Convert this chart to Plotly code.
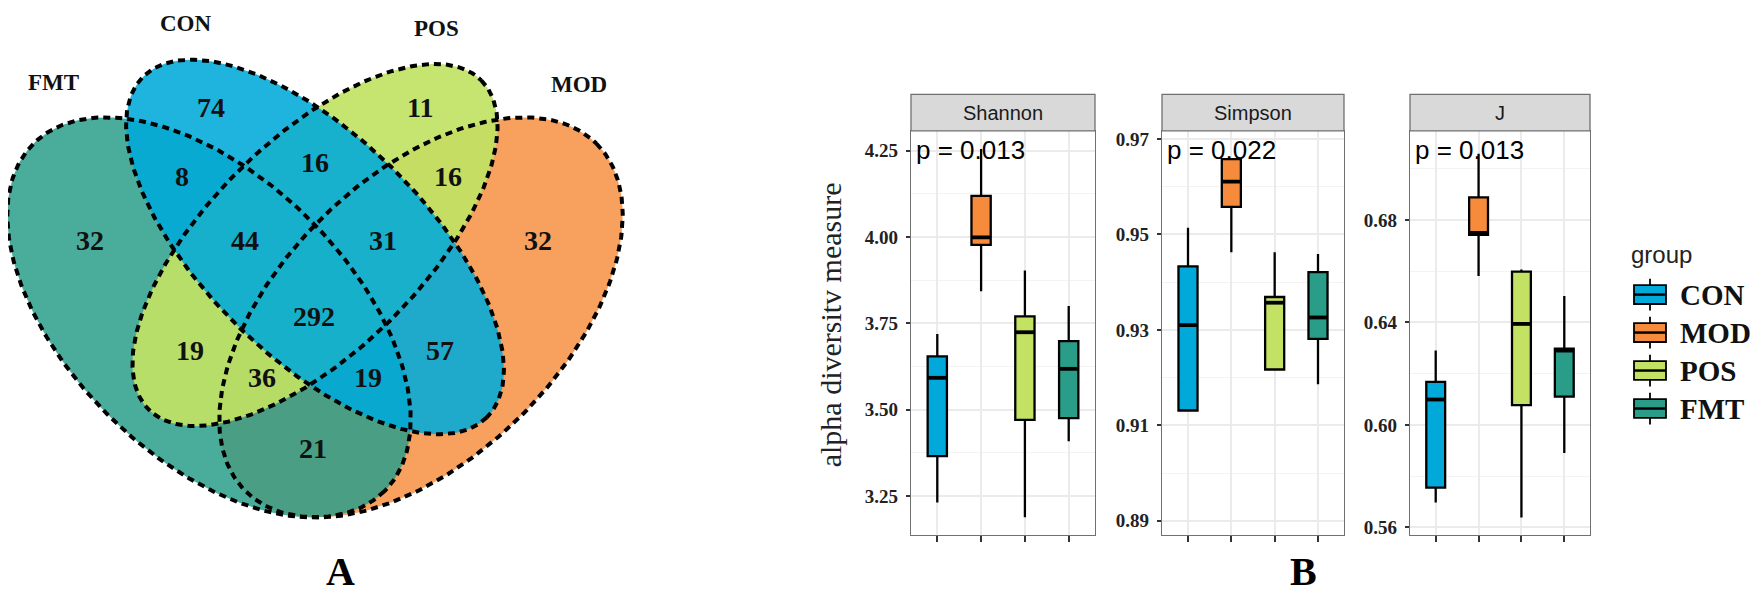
import numpy as np
import plotly.graph_objects as go

W, H = 1760, 595

# ---------------- panel A: Venn diagram ----------------
set_names = ["FMT", "CON", "POS", "MOD"]
set_fills = ["rgba(42,157,138,0.85)", "rgba(0,170,218,0.88)",
             "rgba(192,226,100,0.92)", "rgba(246,139,59,0.82)"]

region_names = ["FMT", "CON", "POS", "MOD",
                "CON&FMT", "CON&POS", "POS&MOD",
                "FMT&CON&POS", "CON&POS&MOD", "ALL",
                "FMT&POS", "CON&MOD",
                "FMT&POS&MOD", "FMT&CON&MOD", "FMT&MOD"]
region_counts = [32, 74, 11, 32, 8, 16, 16, 44, 31, 292, 19, 57, 36, 19, 21]

# ---------------- panel B: alpha diversity boxes ----------------
groups = ["CON", "MOD", "POS", "FMT"]
group_colors = ["#00A9DA", "#F68B3B", "#C3E163", "#2A9D88"]
metrics = ["Shannon", "Simpson", "J"]
p_labels = ["p = 0.013", "p = 0.022", "p = 0.013"]

shannon_low = [3.231, 3.843, 3.188, 3.408]
shannon_q1 = [3.365, 3.977, 3.470, 3.475]
shannon_med = [3.592, 3.999, 3.724, 3.618]
shannon_q3 = [3.654, 4.119, 3.770, 3.698]
shannon_high = [3.719, 4.255, 3.903, 3.800]

simpson_low = [0.9131, 0.9463, 0.9217, 0.9186]
simpson_q1 = [0.9131, 0.9558, 0.9217, 0.9281]
simpson_med = [0.9310, 0.9611, 0.9357, 0.9326]
simpson_q3 = [0.9433, 0.9658, 0.9369, 0.9421]
simpson_high = [0.9514, 0.9658, 0.9463, 0.9459]

j_low = [0.5697, 0.6581, 0.5639, 0.5890]
j_q1 = [0.5755, 0.6742, 0.6077, 0.6110]
j_med = [0.6099, 0.6749, 0.6394, 0.6290]
j_q3 = [0.6168, 0.6888, 0.6598, 0.6297]
j_high = [0.6290, 0.7058, 0.6606, 0.6503]

y_tickvals = [[3.25, 3.50, 3.75, 4.00, 4.25],
              [0.89, 0.91, 0.93, 0.95, 0.97],
              [0.56, 0.60, 0.64, 0.68]]
y_ticktext = [["3.25", "3.50", "3.75", "4.00", "4.25"],
              ["0.89", "0.91", "0.93", "0.95", "0.97"],
              ["0.56", "0.60", "0.64", "0.68"]]
y_minorvals = [[3.375, 3.625, 3.875, 4.125],
               [0.90, 0.92, 0.94, 0.96],
               [0.58, 0.62, 0.66, 0.70]]
y_ranges = [[3.138, 4.307], [0.8871, 0.9717], [0.5572, 0.7147]]

panel_stats = [
    (shannon_low, shannon_q1, shannon_med, shannon_q3, shannon_high),
    (simpson_low, simpson_q1, simpson_med, simpson_q3, simpson_high),
    (j_low, j_q1, j_med, j_q3, j_high),
]

# ---------------- geometry (pixels) ----------------
ellipse_geom = {  # cx, cy, semi-major, semi-minor, rotation
    "FMT": (201, 310, 248, 141, 45),
    "CON": (307, 239, 243, 111, 45),
    "POS": (307, 237, 235, 107, -45),
    "MOD": (413, 310, 248, 141, -45),
}
region_pos = {
    "FMT": (82, 232), "CON": (203, 98), "POS": (412, 98), "MOD": (530, 232),
    "CON&FMT": (174, 168), "CON&POS": (307, 154), "POS&MOD": (440, 168),
    "FMT&CON&POS": (237, 232), "CON&POS&MOD": (375, 232), "ALL": (306, 309),
    "FMT&POS": (182, 343), "CON&MOD": (432, 343),
    "FMT&POS&MOD": (254, 371), "FMT&CON&MOD": (360, 371), "FMT&MOD": (305, 442),
}
set_label_pos = {"FMT": (45, 73), "CON": (178, 14), "POS": (428, 19), "MOD": (571, 75)}

panel_px = [(903, 1087), (1154, 1336), (1402, 1582)]
panel_top, panel_bottom, strip_top = 122, 529, 85
box_width = 0.44

serif = "Liberation Serif"
sans = "Liberation Sans"

t = np.linspace(0, 2 * np.pi, 361)


def ellipse_xy(cx, cy, a, b, deg):
    th = np.deg2rad(deg)
    x = cx + a * np.cos(t) * np.cos(th) - b * np.sin(t) * np.sin(th)
    y = cy + a * np.cos(t) * np.sin(th) + b * np.sin(t) * np.cos(th)
    return x, y


def px(x):
    return x / W


def py(y):
    return 1 - y / H


fig = go.Figure()

# ellipse fills, bottom to top
for name in ["MOD", "FMT", "POS", "CON"]:
    x, y = ellipse_xy(*ellipse_geom[name])
    fig.add_trace(go.Scatter(
        x=x, y=y, mode="lines", fill="toself",
        fillcolor=set_fills[set_names.index(name)],
        line=dict(width=0), hoverinfo="skip", showlegend=False,
        xaxis="x", yaxis="y"))

# dashed outlines on top of all fills
for name in set_names:
    x, y = ellipse_xy(*ellipse_geom[name])
    fig.add_trace(go.Scatter(
        x=x, y=y, mode="lines",
        line=dict(color="black", width=4, dash="7px,5px"),
        hoverinfo="skip", showlegend=False, xaxis="x", yaxis="y"))

annotations = []
for name, count in zip(region_names, region_counts):
    cx, cy = region_pos[name]
    annotations.append(dict(
        x=cx, y=cy, xref="x", yref="y", text=str(count), showarrow=False,
        xanchor="center", yanchor="middle",
        font=dict(family=serif, size=28, color="#111", weight="bold")))
for name in set_names:
    cx, cy = set_label_pos[name]
    annotations.append(dict(
        x=cx, y=cy, xref="x", yref="y", text=name, showarrow=False,
        xanchor="center", yanchor="middle",
        font=dict(family=serif, size=23, color="#111", weight="bold")))

# boxes
for k, (low, q1, med, q3, high) in enumerate(panel_stats):
    xa, ya = "x%d" % (k + 2), "y%d" % (k + 2)
    for g in range(len(groups)):
        fig.add_trace(go.Box(
            x=[g + 1], q1=[q1[g]], median=[med[g]], q3=[q3[g]],
            lowerfence=[low[g]], upperfence=[high[g]],
            fillcolor=group_colors[g], line=dict(color="black", width=2.3),
            width=box_width, whiskerwidth=0, boxpoints=False,
            name=groups[g], showlegend=False, hoverinfo="skip",
            xaxis=xa, yaxis=ya))
        # ggplot draws the median thicker
        fig.add_trace(go.Scatter(
            x=[g + 1 - box_width / 2, g + 1 + box_width / 2], y=[med[g], med[g]],
            mode="lines", line=dict(color="black", width=3.8),
            hoverinfo="skip", showlegend=False, xaxis=xa, yaxis=ya))

layout_axes = dict(
    xaxis=dict(domain=[0, 700 / W], range=[0, 700], visible=False, fixedrange=True),
    yaxis=dict(domain=[0, 1], range=[H, 0], visible=False, fixedrange=True),
)
shapes = []
for k, (x0, x1) in enumerate(panel_px):
    layout_axes["xaxis%d" % (k + 2)] = dict(
        domain=[px(x0), px(x1)], range=[0.4, 4.6], anchor="y%d" % (k + 2),
        tickvals=[1, 2, 3, 4], ticktext=["", "", "", ""],
        ticks="outside", ticklen=6, tickwidth=1.5, tickcolor="#333",
        showgrid=True, gridcolor="#ebebeb", gridwidth=1.5,
        showline=True, mirror=True, linecolor="#707070", linewidth=1.3,
        zeroline=False, fixedrange=True)
    layout_axes["yaxis%d" % (k + 2)] = dict(
        domain=[py(panel_bottom), py(panel_top)], range=y_ranges[k],
        anchor="x%d" % (k + 2),
        tickvals=y_tickvals[k], ticktext=y_ticktext[k],
        ticks="outside", ticklen=4, tickwidth=1.5, tickcolor="#333",
        ticklabelstandoff=4,
        tickfont=dict(family=serif, size=19, color="#222", weight="bold"),
        showgrid=True, gridcolor="#ebebeb", gridwidth=1.5,
        minor=dict(tickvals=y_minorvals[k], showgrid=True,
                   gridcolor="#f3f3f3", gridwidth=1.2, ticks=""),
        showline=True, mirror=True, linecolor="#707070", linewidth=1.3,
        zeroline=False, fixedrange=True)
    # facet strip
    shapes.append(dict(
        type="rect", xref="paper", yref="paper",
        x0=px(x0), x1=px(x1), y0=py(panel_top), y1=py(strip_top),
        fillcolor="#d9d9d9", line=dict(color="#707070", width=1.3)))
    annotations.append(dict(
        x=px((x0 + x1) / 2), y=py((strip_top + panel_top) / 2),
        xref="paper", yref="paper", text=metrics[k], showarrow=False,
        xanchor="center", yanchor="middle",
        font=dict(family=sans, size=20, color="#1a1a1a")))
    annotations.append(dict(
        x=px(x0 + 3), y=py(141), xref="paper", yref="paper",
        text=p_labels[k], showarrow=False, xanchor="left", yanchor="middle",
        font=dict(family=sans, size=26, color="black")))

# y axis title
annotations.append(dict(
    x=px(822), y=py(318), xref="paper", yref="paper",
    text="alpha diversitv measure", textangle=-90, showarrow=False,
    xanchor="center", yanchor="middle",
    font=dict(family=serif, size=30, color="#222")))

# legend, drawn by hand to get ggplot-style keys
annotations.append(dict(
    x=px(1621), y=py(247), xref="paper", yref="paper", text="group",
    showarrow=False, xanchor="left", yanchor="middle",
    font=dict(family=sans, size=24, color="#222")))
for g, (name, color) in enumerate(zip(groups, group_colors)):
    cy = 287 + 38.3 * g
    shapes.append(dict(type="line", xref="paper", yref="paper",
                       x0=px(1642), x1=px(1642), y0=py(cy - 16), y1=py(cy + 16),
                       line=dict(color="black", width=1.8)))
    shapes.append(dict(type="rect", xref="paper", yref="paper",
                       x0=px(1626), x1=px(1658), y0=py(cy + 9.5), y1=py(cy - 9.5),
                       fillcolor=color, line=dict(color="black", width=1.8)))
    shapes.append(dict(type="line", xref="paper", yref="paper",
                       x0=px(1626), x1=px(1658), y0=py(cy), y1=py(cy),
                       line=dict(color="black", width=2.5)))
    annotations.append(dict(
        x=px(1670), y=py(cy), xref="paper", yref="paper", text=name,
        showarrow=False, xanchor="left", yanchor="middle",
        font=dict(family=serif, size=29, color="#111", weight="bold")))

# panel letters
for letter, cx in [("A", 332), ("B", 1295)]:
    annotations.append(dict(
        x=px(cx), y=py(566), xref="paper", yref="paper", text=letter,
        showarrow=False, xanchor="center", yanchor="middle",
        font=dict(family=serif, size=40, color="black", weight="bold")))

fig.update_layout(
    width=W, height=H,
    margin=dict(l=0, r=0, t=0, b=0),
    paper_bgcolor="white", plot_bgcolor="white",
    showlegend=False,
    annotations=annotations, shapes=shapes,
    **layout_axes,
)

fig.write_html("out.html")
